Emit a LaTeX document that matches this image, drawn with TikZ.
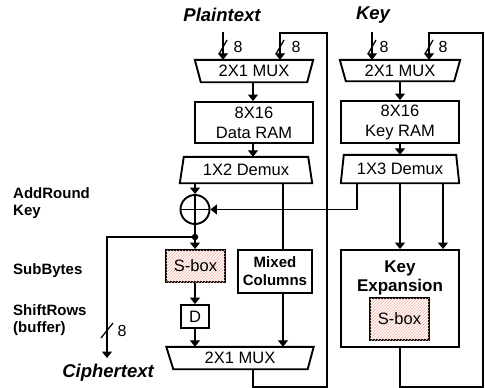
\documentclass[tikz,border=0pt]{standalone}
\usepackage{fontspec}
\setmainfont{Liberation Sans}
\usetikzlibrary{arrows.meta,calc,patterns}
\begin{document}
\begin{tikzpicture}[x=1pt,y=-1pt,
  boxline/.style={line width=1.9pt, line join=miter},
  conn/.style={line width=1.3pt},
  arr/.style={conn, -{Triangle[length=6.5pt,width=10pt]}},
  lbl/.style={inner sep=0pt, font=\fontsize{16.5}{20}\selectfont, align=center},
  blk/.style={lbl, draw, line width=1.9pt},
  sidelbl/.style={inner sep=0pt, anchor=west, font=\bfseries\fontsize{15}{18}\selectfont},
  iolbl/.style={inner sep=0pt, font=\bfseries\itshape\fontsize{18.5}{20}\selectfont},
  buslbl/.style={inner sep=0pt, font=\fontsize{16}{18}\selectfont},
  hatchbox/.style={blk, fill=red!2, postaction={pattern=north east lines, pattern color=red!40!brown!40}},
  boldblk/.style={blk, font=\bfseries\fontsize{15}{18}\selectfont}
]
\useasboundingbox (0,0) rectangle (485,388);

% ---------- titles ----------
\node[iolbl] (ptxt) at (222,15) {Plaintext};
\node[iolbl] (keyt) at (373,15) {Key};
\node[iolbl] (ctxt) at (108,373) {Ciphertext};

% ---------- side labels ----------
\node[sidelbl] (ark1) at (13,193) {AddRound};
\node[sidelbl] (ark2) at (13,212) {Key};
\node[sidelbl] (sb) at (13,271) {SubBytes};
\node[sidelbl] (sr1) at (13,310) {ShiftRows};
\node[sidelbl] (sr2) at (13,329) {(buffer)};

% ---------- left column ----------
\node[lbl, minimum width=118pt, minimum height=22pt] (mux1) at (254,71) {2X1 MUX};
\draw[boxline] (mux1.north west) -- (mux1.north east) -- ([xshift=-6pt]mux1.south east) -- ([xshift=6pt]mux1.south west) -- cycle;

\node[blk, minimum width=118pt, minimum height=41pt] (ram1) at (254,122.5) {8X16\\Data RAM};

\node[lbl, minimum width=132pt, minimum height=26pt] (demux1) at (246,170) {1X2 Demux};
\draw[boxline] ([xshift=4pt]demux1.north west) -- ([xshift=-4pt]demux1.north east) -- (demux1.south east) -- (demux1.south west) -- cycle;

\node[draw, circle, line width=1.9pt, minimum size=29pt, inner sep=0pt] (xor) at (195,209.5) {};
\draw[boxline] (xor.north) -- (xor.south) (xor.west) -- (xor.east);

\node[circle, fill, minimum size=6.5pt, inner sep=0pt] (dot) at (195,237) {};

\node[hatchbox, minimum width=59pt, minimum height=32pt] (sbox1) at (195.5,266) {S-box};
\node[blk, minimum width=28pt, minimum height=23pt] (dreg) at (195,316.5) {D};
\node[boldblk, minimum width=74pt, minimum height=43pt] (mix) at (275,271.5) {Mixed\\Columns};

\node[lbl, minimum width=147pt, minimum height=22pt] (mux3) at (240,358) {2X1 MUX};
\draw[boxline] (mux3.north west) -- (mux3.north east) -- ([xshift=-6pt]mux3.south east) -- ([xshift=7pt]mux3.south west) -- cycle;

% ---------- right column ----------
\node[lbl, minimum width=120pt, minimum height=21pt] (mux2) at (400,70.5) {2X1 MUX};
\draw[boxline] (mux2.north west) -- (mux2.north east) -- ([xshift=-6pt]mux2.south east) -- ([xshift=6pt]mux2.south west) -- cycle;

\node[blk, minimum width=118pt, minimum height=42pt] (ram2) at (400,122) {8X16\\Key RAM};

\node[lbl, minimum width=118pt, minimum height=28pt] (demux2) at (400,169) {1X3 Demux};
\draw[boxline] ([xshift=3pt]demux2.north west) -- ([xshift=-3pt]demux2.north east) -- (demux2.south east) -- (demux2.south west) -- cycle;

\node[draw, line width=1.9pt, minimum width=118pt, minimum height=97pt, inner sep=0pt] (kexp) at (400,298.5) {};
\node[inner sep=0pt, align=center, font=\bfseries\fontsize{17}{19}\selectfont] (kexplbl) at (400,277.5) {Key\\Expansion};
\node[hatchbox, minimum width=59pt, minimum height=42pt] (sbox2) at (399.5,319) {S-box};

% ---------- coordinates ----------
\coordinate (pin) at (223,32);
\coordinate (kin) at (372,32);
\coordinate (fbL1) at (327,387);
\coordinate (fbL2) at (327,33);
\coordinate (fbR1) at (483,387);
\coordinate (fbR2) at (483,33);
\coordinate (cout) at (107,358);

% ---------- connectors ----------
\draw[arr] (pin) -- (pin |- mux1.north);
\draw[arr] ([xshift=-1pt]mux1.south) -- ([xshift=-1pt]mux1.south |- ram1.north);
\draw[arr] ([xshift=-1pt]ram1.south) -- ([xshift=-1pt]ram1.south |- demux1.north);
\draw[arr] (demux1.south -| xor) -- (xor.north);
\draw[conn] (xor.south) -- (dot);
\draw[arr] (dot) -- (dot |- sbox1.north);
\draw[arr] (dot) -| (cout);
\draw[arr] (sbox1.south -| dot) -- (dreg.north);
\draw[arr] (dreg.south) -- (dreg.south |- mux3.north);
\draw[conn] ([xshift=8pt]mix.north |- demux1.south) -- ([xshift=8pt]mix.north);
\draw[arr] ([xshift=8pt]mix.south) -- ([xshift=8pt]mix.south |- mux3.north);
\draw[arr] ([xshift=13pt]mux3.south) |- (fbL1) -- (fbL2) -| ([xshift=26pt]mux1.north);

\draw[arr] (kin) -- (kin |- mux2.north);
\draw[arr] (mux2.south) -- (ram2.north);
\draw[arr] (ram2.south) -- (demux2.north);
\draw[arr] ([xshift=-43pt]demux2.south) |- (xor.east);
\draw[arr] (demux2.south) -- (kexp.north);
\draw[arr] ([xshift=43pt]demux2.south) -- ([xshift=43pt]kexp.north);
\draw[arr] (kexp.south) |- (fbR1) -- (fbR2) -| ([xshift=29pt]mux2.north);

% ---------- bus width marks ----------
\draw[conn] (219,54) -- (227,40);
\node[buslbl] (b1) at (238,47) {8};
\draw[conn] (276,54) -- (284,40);
\node[buslbl] (b2) at (296,47) {8};
\draw[conn] (368,54) -- (376,40);
\node[buslbl] (b3) at (384,47) {8};
\draw[conn] (425,54) -- (433,40);
\node[buslbl] (b4) at (443,47) {8};
\draw[conn] (101,338) -- (113,323);
\node[buslbl] (b5) at (122,331) {8};
\end{tikzpicture}
\end{document}
